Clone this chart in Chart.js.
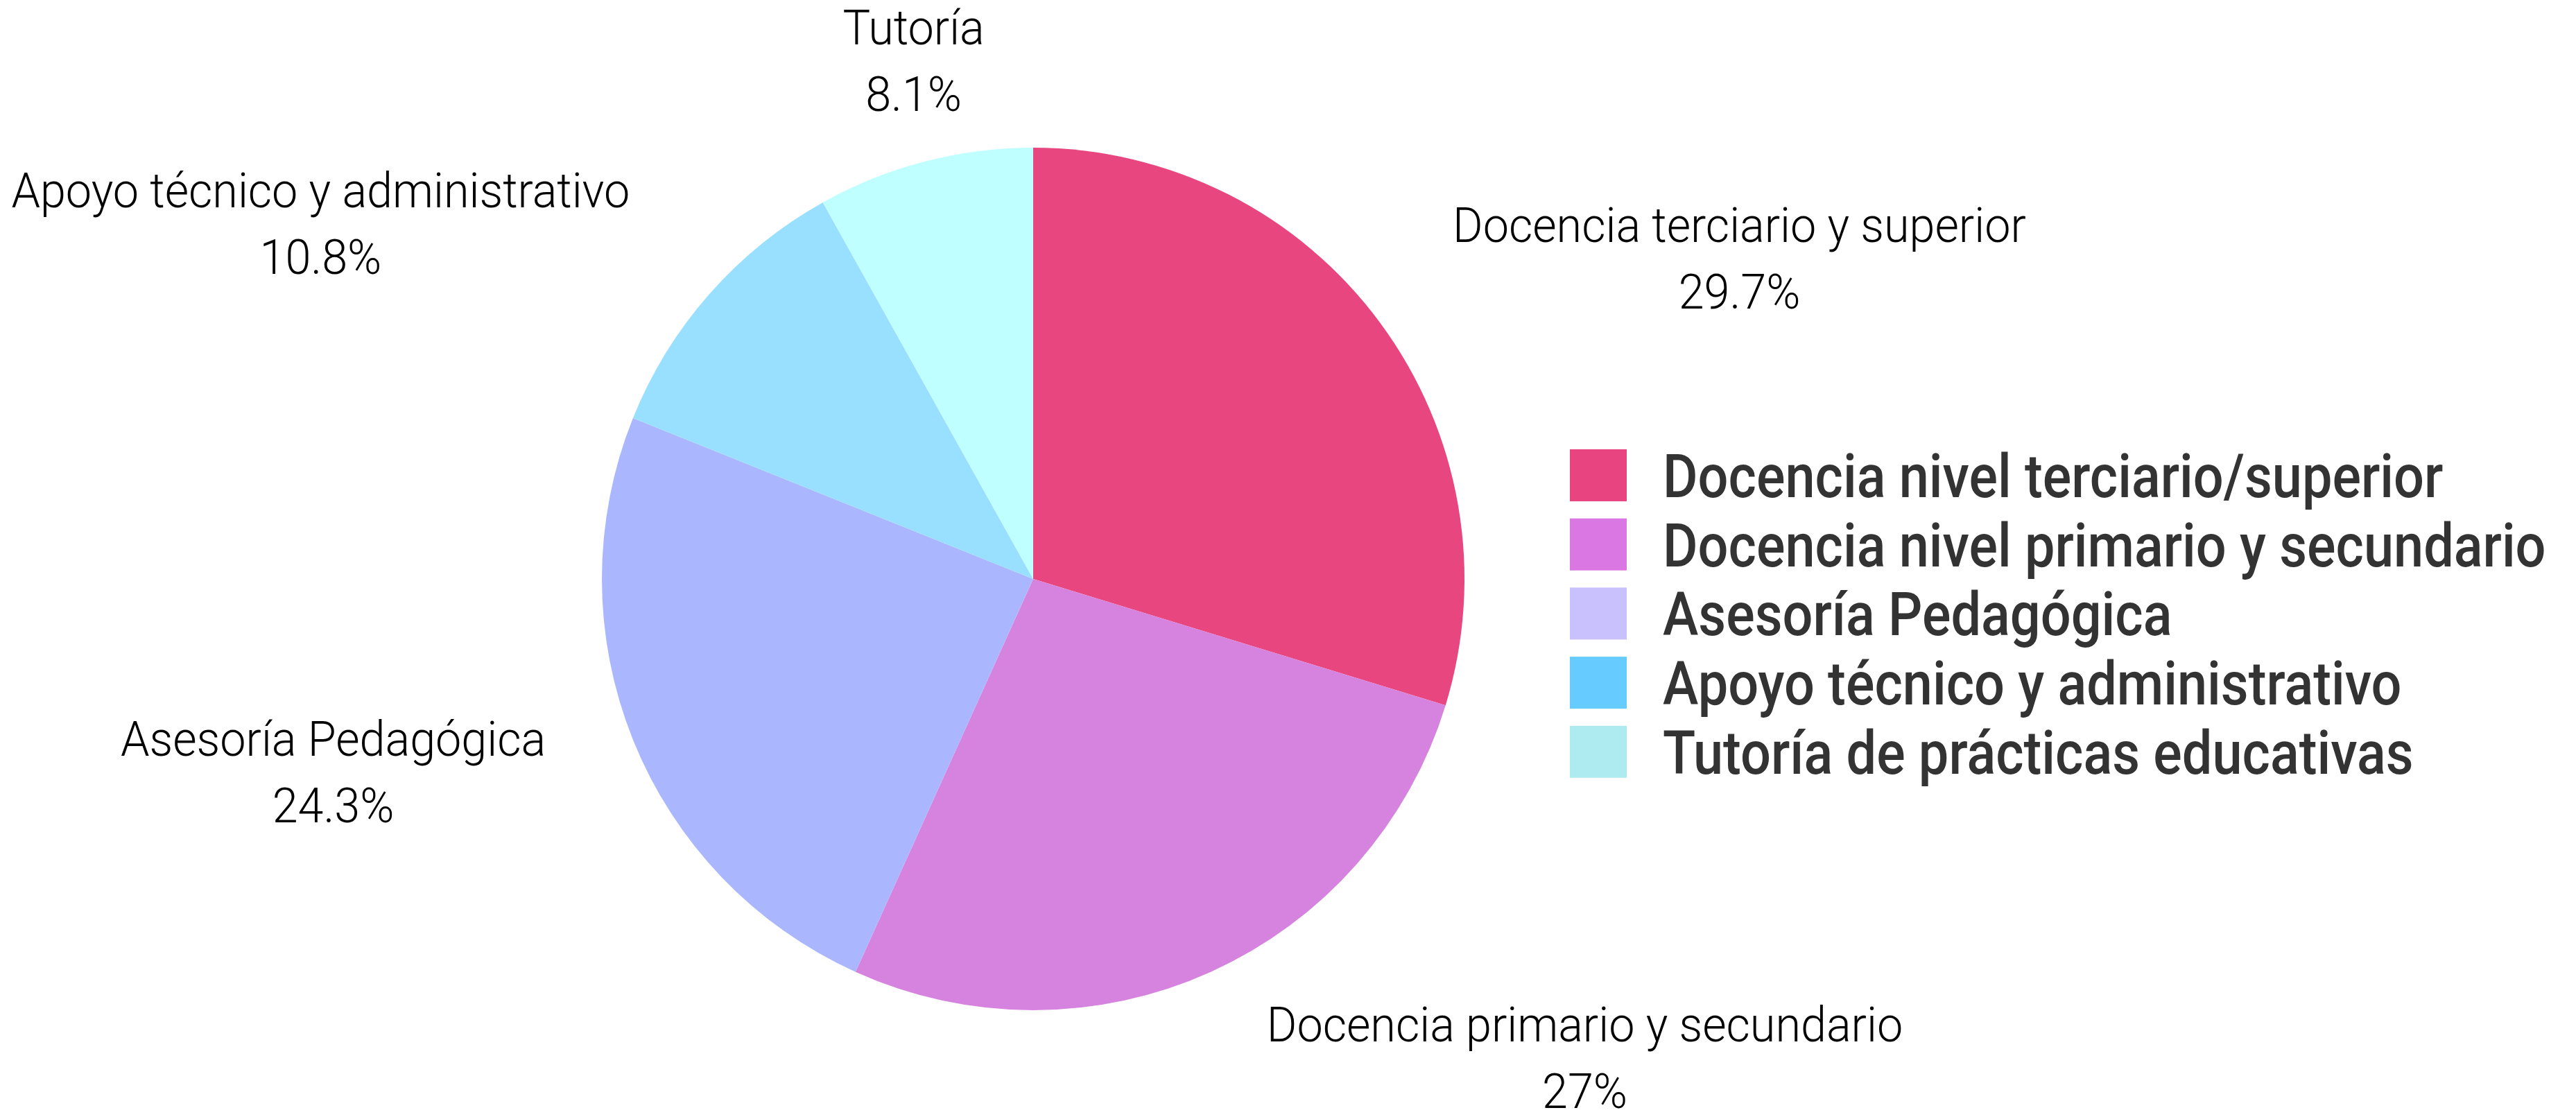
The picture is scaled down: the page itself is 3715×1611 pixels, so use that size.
<!DOCTYPE html>
<html>
<head>
<meta charset="utf-8">
<script src="https://cdn.jsdelivr.net/npm/chart.js@4.4.1/dist/chart.umd.min.js"></script>
<style>
  html, body { margin: 0; padding: 0; background: #ffffff; }
  #wrap { width: 3715px; height: 1611px; position: relative; }
</style>
</head>
<body>
<div id="wrap"><canvas id="pieChart"></canvas></div>
<script>
/* ===== DATA ===== */

// slice names as shown next to the pie
const sliceLabels = [
  'Docencia terciario y superior',
  'Docencia primario y secundario',
  'Asesoría Pedagógica',
  'Apoyo técnico y administrativo',
  'Tutoría',
];

// share of each group (%)
const shareValues = [29.7, 27, 24.3, 10.8, 8.1];

// legend entries (longer names)
const legendLabels = [
  'Docencia nivel terciario/superior',
  'Docencia nivel primario y secundario',
  'Asesoría Pedagógica',
  'Apoyo técnico y administrativo',
  'Tutoría de prácticas educativas',
];

/* ===== STYLE ===== */

const sliceColors = ['#e8467f', '#d683df', '#aab7fe', '#99dfff', '#c0ffff'];
const legendColors = ['#e84580', '#da77e2', '#c8c1fd', '#66ccff', '#aeebf0'];

const FONT_FAMILY = 'Roboto, "Open Sans", "DejaVu Sans", sans-serif';
const LABEL_SIZE = 70;
const LABEL_LINE = 96;
const LABEL_STRETCH = 0.95;
const LEGEND_SIZE = 88;
const LEGEND_STRETCH = 0.88;

// squeeze text horizontally to mimic the condensed face of the original
function drawText(ctx, text, x, y, align, sx) {
  ctx.save();
  ctx.translate(x, y);
  ctx.scale(sx, 1);
  ctx.textAlign = align;
  ctx.fillText(text, 0, 0);
  ctx.restore();
}

// two-line labels (name + percent) outside each slice
const outsideLabels = {
  id: 'outsideLabels',
  afterDatasetsDraw(chart) {
    const { ctx } = chart;
    const meta = chart.getDatasetMeta(0);
    ctx.save();
    ctx.font = `300 ${LABEL_SIZE}px ${FONT_FAMILY}`;
    ctx.fillStyle = '#000000';
    ctx.textBaseline = 'middle';
    meta.data.forEach((arc, i) => {
      const p = arc.getProps(['x', 'y', 'startAngle', 'endAngle', 'outerRadius'], true);
      const mid = (p.startAngle + p.endAngle) / 2;
      const dx = Math.cos(mid), dy = Math.sin(mid);
      const ax = p.x + dx * p.outerRadius * 1.1;
      const ay = p.y + dy * p.outerRadius * 1.1;
      const lines = [sliceLabels[i], shareValues[i] + '%'];
      const w = Math.max(...lines.map(t => ctx.measureText(t).width)) * LABEL_STRETCH;
      let cx;
      if (dx > 0.3) cx = ax + 55 + w / 2;
      else if (dx < -0.3) cx = ax - 68 - w / 2;
      else cx = ax;
      let cy = ay + dy * LABEL_LINE * 0.85;
      cy = Math.max(cy, LABEL_LINE * 0.98);
      drawText(ctx, lines[0], cx, cy - LABEL_LINE / 2, 'center', LABEL_STRETCH);
      drawText(ctx, lines[1], cx, cy + LABEL_LINE / 2, 'center', LABEL_STRETCH);
    });
    ctx.restore();
  }
};

// legend at the right, with its own swatch colours
const sideLegend = {
  id: 'sideLegend',
  afterDraw(chart) {
    const { ctx } = chart;
    const boxX = 2264, textX = 2398, firstBase = 717, step = 99.7;
    ctx.save();
    ctx.font = `500 ${LEGEND_SIZE}px ${FONT_FAMILY}`;
    ctx.textBaseline = 'alphabetic';
    legendLabels.forEach((t, i) => {
      const base = firstBase + i * step;
      ctx.fillStyle = legendColors[i];
      ctx.fillRect(boxX, base - 69, 82, 75);
      ctx.fillStyle = '#333333';
      drawText(ctx, t, textX, base, 'left', LEGEND_STRETCH);
    });
    ctx.restore();
  }
};

/* ===== PIE CHART ===== */

(function() {
  const ctx = document.getElementById('pieChart');
  if (!ctx) return;

  new Chart(ctx, {
    type: 'pie',
    data: {
      labels: sliceLabels,
      datasets: [{
        data: shareValues,
        backgroundColor: sliceColors,
        borderWidth: 0,
      }]
    },
    options: {
      responsive: true,
      maintainAspectRatio: false,
      animation: false,
      layout: { padding: { top: 213, bottom: 154, left: 868, right: 1603 } },
      plugins: {
        legend: { display: false },
        tooltip: { enabled: false },
      }
    },
    plugins: [outsideLabels, sideLegend]
  });
})();
</script>
</body>
</html>
